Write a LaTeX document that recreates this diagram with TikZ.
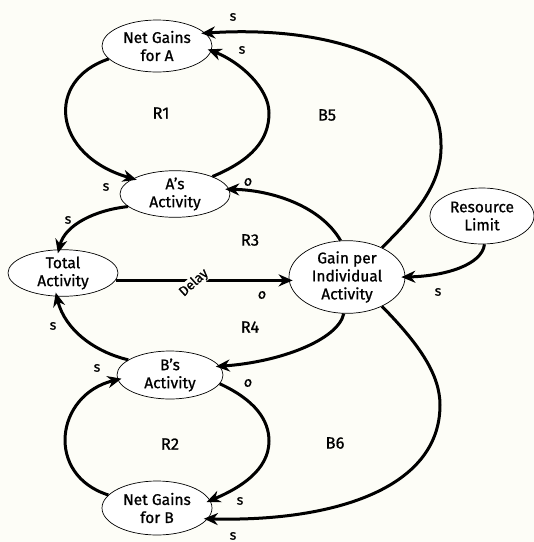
\documentclass[tikz,border=0pt]{standalone}
\usepackage{fontspec}
\setmainfont{Fira Sans}[FakeBold=0.9]
\usetikzlibrary{arrows.meta,shapes.geometric}
\definecolor{bg}{RGB}{253,253,247}
\begin{document}
\begin{tikzpicture}[x=1pt,y=-1pt,
  var/.style={ellipse,draw,line width=0.7pt,fill=white,inner sep=0pt,align=center,font=\fontsize{15.5}{18}\selectfont},
  link/.style={line width=3pt,-{Stealth[length=14pt,width=12pt,inset=4.5pt]},shorten >=-4pt},
  pol/.style={font=\fontsize{14}{15}\selectfont},
  loopname/.style={font=\fontsize{16.5}{18}\selectfont}]
\fill[bg] (0,0) rectangle (534,542);
\useasboundingbox (0,0) rectangle (534,542);
% variables
\node[var,minimum width=110pt,minimum height=52pt] (na) at (157,46) {Net Gains\\for A};
\node[var,minimum width=110pt,minimum height=46pt] (aa) at (175,194) {A's\\Activity};
\node[var,minimum width=110pt,minimum height=46pt] (ta) at (63,273) {Total\\Activity};
\node[var,minimum width=116pt,minimum height=66pt] (g) at (347,277) {Gain per\\Individual\\Activity};
\node[var,minimum width=104pt,minimum height=56pt] (rl) at (482,216) {Resource\\Limit};
\node[var,minimum width=106pt,minimum height=48pt] (ba) at (170,375) {B's\\Activity};
\node[var,minimum width=110pt,minimum height=54pt] (nb) at (157,508) {Net Gains\\for B};
% R1
\draw[link] (na.195) .. controls (45,80) and (52,155) .. (aa.160);
\draw[link] (aa.25) .. controls (252,160) and (269,140) .. (269,113) .. controls (269,88) and (240,62) .. (na.-5);
% B5
\draw[link] (g.40) .. controls (415,215) and (442,185) .. (441,145) .. controls (441,60) and (330,25) .. (na.15);
% R3
\draw[link] (g.100) .. controls (320,205) and (270,190) .. (aa.5);
\draw[link] (aa.195) .. controls (95,210) and (65,225) .. (ta.100);
% delay link
\draw[link] (ta.-8) -- (ta.-8 -| g.west);
% resource limit
\draw[link] (rl.-85) .. controls (482,265) and (445,276) .. (g.0);
% R4
\draw[link] (g.265) .. controls (338,340) and (280,362) .. (ba.10);
\draw[link] (ba.160) .. controls (95,352) and (65,330) .. (ta.-105);
% R2
\draw[link] (nb.165) .. controls (45,475) and (55,395) .. (ba.185);
\draw[link] (ba.-10) .. controls (255,400) and (269,420) .. (269,441) .. controls (269,470) and (240,488) .. (nb.8);
% B6
\draw[link] (g.-40) .. controls (420,345) and (440,375) .. (440,405) .. controls (440,490) and (330,522) .. (nb.-12);
% delay label
\node[font=\fontsize{13.5}{15}\selectfont,fill=bg,inner sep=0.5pt,rotate=42] (dl) at (194,283) {Delay};
% polarity labels
\node[pol] (p1) at (233,17) {s};
\node[pol] (p2) at (242,50) {s};
\node[pol] (p3) at (106,187) {s};
\node[pol] (p4) at (248,182) {\itshape o};
\node[pol] (p5) at (68,220) {s};
\node[pol] (p6) at (262,295) {\itshape o};
\node[pol] (p7) at (438,292) {s};
\node[pol] (p8) at (53,326) {s};
\node[pol] (p9) at (97,368) {s};
\node[pol] (p10) at (248,383) {\itshape o};
\node[pol] (p11) at (240,501) {s};
\node[pol] (p12) at (233,536) {s};
% loop labels
\node[loopname] (r1) at (161,113) {R1};
\node[loopname] (b5) at (327,115) {B5};
\node[loopname] (r3) at (250,240) {R3};
\node[loopname] (r4) at (250,327) {R4};
\node[loopname] (r2) at (170,444) {R2};
\node[loopname] (b6) at (335,443) {B6};
\end{tikzpicture}
\end{document}
